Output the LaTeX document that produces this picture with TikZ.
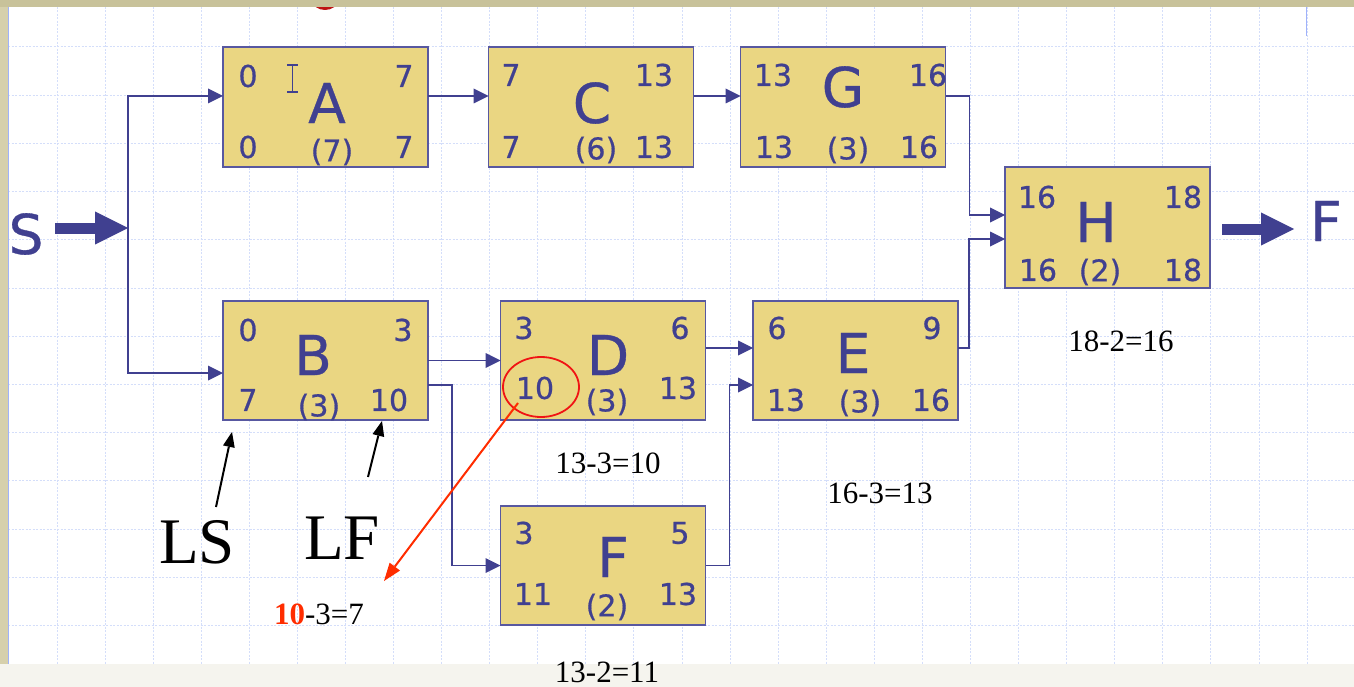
\documentclass[tikz,border=0pt]{standalone}
\usepackage{fontspec}
\setmainfont{Liberation Serif}
\newfontfamily\boxfont[FakeBold=0.6]{DejaVu Sans}
\usetikzlibrary{arrows.meta,shapes.geometric}
\definecolor{navy}{RGB}{64,64,144}
\definecolor{boxfill}{RGB}{234,214,130}
\definecolor{boxline}{RGB}{88,88,160}
\definecolor{gridc}{RGB}{212,222,250}
\definecolor{topband}{RGB}{200,194,154}
\definecolor{leftband}{RGB}{214,208,172}
\definecolor{botband}{RGB}{245,244,238}
\definecolor{redc}{RGB}{255,45,0}
\definecolor{ellc}{RGB}{240,20,20}
\definecolor{edgeblue}{RGB}{160,178,250}
\definecolor{blobred}{RGB}{190,20,20}
\begin{document}
\begin{tikzpicture}[x=1pt,y=-1pt,
  act/.style={draw=boxline, fill=boxfill, line width=1.5pt, minimum width=205pt, minimum height=120pt, inner sep=0pt, outer sep=0pt},
  num/.style={font=\boxfont\fontsize{30}{32}\selectfont, text=navy, inner sep=0pt},
  big/.style={font=\boxfont\fontsize{55}{60}\selectfont, text=navy, inner sep=0pt},
  conn/.style={draw=navy, line width=1.5pt, -{Triangle[length=15pt,width=15pt,line width=0pt]}},
  fat/.style={draw=navy, line width=11pt, -{Triangle[length=33pt,width=33pt,line width=0pt]}},
  note/.style={font=\fontsize{31}{34}\selectfont, inner sep=0pt},
  lbl/.style={font=\fontsize{65}{70}\selectfont, inner sep=0pt},
  ptr/.style={draw=black, line width=2pt, -{Triangle[length=15pt,width=12pt,line width=0pt]}},
  redptr/.style={draw=redc, line width=2pt, -{Triangle[length=18pt,width=13pt,line width=0pt]}},
  gridl/.style={draw=gridc, line width=1pt, dash pattern=on 2pt off 1.5pt},
]
\useasboundingbox (0,0) rectangle (1354,687);
\fill[white] (0,0) rectangle (1354,687);
% grid
\foreach \k in {0,...,26} \draw[gridl] ({57+48.08*\k},7) -- ({57+48.08*\k},664);
\foreach \k in {0,...,12} \draw[gridl] (8,{47+48.2*\k}) -- (1354,{47+48.2*\k});
% frame of the slide
\fill[botband] (0,664) rectangle (1354,687);
\fill[blobred] (325,0) ellipse [x radius=13, y radius=10];
\fill[topband] (0,0) rectangle (1354,7);
\fill[leftband] (0,7) rectangle (8,664);
\draw[edgeblue, line width=1.2pt] (8.6,7) -- (8.6,664);
\draw[edgeblue, line width=1.5pt] (1306.5,7) -- (1306.5,36);

% activity boxes
\node[act] (A) at (325.5,107) {};
\node[act] (C) at (591,107) {};
\node[act] (G) at (843,107) {};
\node[act, minimum height=121pt] (H) at (1107.5,227.5) {};
\node[act, minimum height=119pt] (B) at (325.5,360.5) {};
\node[act, minimum height=119pt] (D) at (603,360.5) {};
\node[act, minimum height=119pt] (E) at (855.5,360.5) {};
\node[act, minimum height=119pt] (F) at (603,565.5) {};

% start and finish
\node[big] (St) at (26,234) {S};
\node[big] (Fin) at (1326,221) {F};
\coordinate (Sa) at (55,228);
\coordinate (split) at (128,228);
\coordinate (Ha) at (1222,229);
\coordinate (Hb) at (1294,229);
\draw[fat] (Sa) -- (split);
\draw[fat] (Ha) -- (Hb);

% connectors
\draw[conn] (split) |- ([yshift=11pt]A.west);
\draw[conn] (split) |- ([yshift=-12.5pt]B.west);
\draw[conn] ([yshift=11pt]A.east) -- ([yshift=11pt]C.west);
\draw[conn] ([yshift=11pt]C.east) -- ([yshift=11pt]G.west);
\draw[conn] ([yshift=11pt]G.east) -- ++(24,0) |- ([yshift=12.5pt]H.west);
\draw[conn] ([yshift=12.5pt]E.east) -- ++(11,0) |- ([yshift=-11.5pt]H.west);
\draw[conn] (B.east) -- (D.west);
\draw[conn] ([yshift=-24.5pt]B.east) -- ++(24,0) |- (F.west);
\draw[conn] ([yshift=12.5pt]D.east) -- ([yshift=12.5pt]E.west);
\draw[conn] (F.east) -- ++(24,0) |- ([yshift=-24.5pt]E.west);

% A
\node[num] (Aes) at (248,76) {0};
\node[num] (Aef) at (404,76) {7};
\node[big] (Al) at (327,103) {A};
\node[num] (Als) at (248,147) {0};
\node[num] (Ad) at (332,152) {(7)};
\node[num] (Alf) at (404,147) {7};
% C
\node[num] (Ces) at (511,75) {7};
\node[num] (Cef) at (654,75) {13};
\node[big] (Cl) at (592,103) {C};
\node[num] (Cls) at (511,147) {7};
\node[num] (Cd) at (596,150) {(6)};
\node[num] (Clf) at (654,147) {13};
% G
\node[num] (Ges) at (773,75) {13};
\node[num] (Gef) at (928,75) {16};
\node[big] (Gl) at (843,87) {G};
\node[num] (Gls) at (774,147) {13};
\node[num] (Gd) at (848,150) {(3)};
\node[num] (Glf) at (919,147) {16};
% H
\node[num] (Hes) at (1037,197) {16};
\node[num] (Hef) at (1183,197) {18};
\node[big] (Hl) at (1096,222) {H};
\node[num] (Hls) at (1038,270) {16};
\node[num] (Hd) at (1100,272) {(2)};
\node[num] (Hlf) at (1183,270) {18};
% B
\node[num] (Bes) at (248,330) {0};
\node[num] (Bef) at (403,330) {3};
\node[big] (Bl) at (313,355) {B};
\node[num] (Bls) at (248,400) {7};
\node[num] (Bd) at (319,407) {(3)};
\node[num] (Blf) at (389,400) {10};
% D
\node[num] (Des) at (524,328) {3};
\node[num] (Def) at (680,328) {6};
\node[big] (Dl) at (608,355) {D};
\node[num] (Dls) at (535,388) {10};
\node[num] (Dd) at (607,402) {(3)};
\node[num] (Dlf) at (678,388) {13};
% E
\node[num] (Ees) at (777,328) {6};
\node[num] (Eef) at (932,328) {9};
\node[big] (El) at (853,353) {E};
\node[num] (Els) at (786,400) {13};
\node[num] (Ed) at (860,403) {(3)};
\node[num] (Elf) at (931,400) {16};
% F
\node[num] (Fes) at (524,533) {3};
\node[num] (Fef) at (680,533) {5};
\node[big] (Fl) at (613,557) {F};
\node[num] (Fls) at (533,594) {11};
\node[num] (Fd) at (607,607) {(2)};
\node[num] (Flf) at (678,594) {13};

% text cursor in A
\draw[navy, line width=1.3pt] (287,65) -- (298,65) (292.5,65) -- (292.5,92) (287,92) -- (298,92);

% annotations
\node[note] (n1) at (608,463) {13-3=10};
\node[note] (n2) at (880,493) {16-3=13};
\node[note] (n3) at (1121,341) {18-2=16};
\node[note] (n4) at (607,672) {13-2=11};
\node[note] (n5) at (319,614) {\textcolor{redc}{\textbf{10}}-3=7};
\node[lbl] (LS) at (197,542) {LS};
\node[lbl] (LF) at (342,538) {LF};
\coordinate (lsa) at (216,507);
\coordinate (lsb) at (232,432);
\coordinate (lfa) at (368,477);
\coordinate (lfb) at (382,421);
\draw[ptr] (lsa) -- (lsb);
\draw[ptr] (lfa) -- (lfb);
\node[draw=ellc, ellipse, line width=1.8pt, minimum width=76pt, minimum height=60pt, inner sep=0pt] (circ) at (541,387) {};
\coordinate (ra) at (518,403);
\coordinate (rb) at (384,581);
\draw[redptr] (ra) -- (rb);
\end{tikzpicture}
\end{document}
